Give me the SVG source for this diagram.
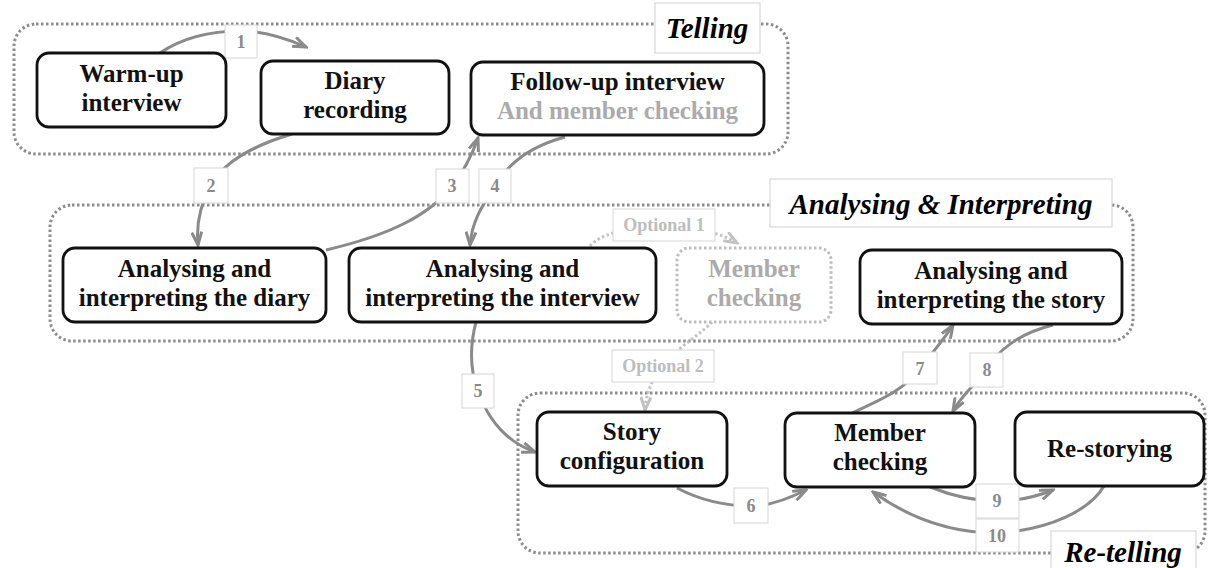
<svg xmlns="http://www.w3.org/2000/svg" width="1208" height="568" viewBox="0 0 1208 568">
<defs>
<style>
text{font-family:'Liberation Serif','Times New Roman',Tinos,Times,serif;}
.grp{fill:none;stroke:#8c8c8c;stroke-width:3;stroke-dasharray:2.5 2.5;}
.glab{fill:#fff;stroke:#cfcfcf;stroke-width:1;}
.gtxt{font-weight:bold;font-style:italic;font-size:29px;fill:#000;text-anchor:middle;}
.node{fill:#fff;stroke:#111;stroke-width:2.8;}
.nodeopt{fill:#fff;stroke:#bdbdbd;stroke-width:3;stroke-dasharray:2.5 2.5;}
.ntxt{font-weight:bold;font-size:25px;fill:#111;text-anchor:middle;}
.ntxtg{font-weight:bold;font-size:25px;fill:#ababab;text-anchor:middle;}
.edge{fill:none;stroke:#8a8a8a;stroke-width:3;marker-end:url(#arr);}
.edgeo{fill:none;stroke:#c2c2c2;stroke-width:3;stroke-dasharray:2.5 2.5;marker-end:url(#arro);}
.lbox{fill:#fff;stroke:#d6d6d6;stroke-width:1;}
.ltxt{font-weight:bold;font-size:18px;fill:#8a8a8a;text-anchor:middle;}
.ltxto{font-weight:bold;font-size:18px;fill:#bdbdbd;text-anchor:middle;}
</style>
<marker id="arr" viewBox="0 0 16 12" refX="14" refY="6" markerWidth="16" markerHeight="12" markerUnits="userSpaceOnUse" orient="auto">
<path d="M1,1 L14,6 L1,11" fill="none" stroke="#8a8a8a" stroke-width="3" stroke-linejoin="miter"/>
</marker>
<marker id="arro" viewBox="0 0 16 12" refX="14" refY="6" markerWidth="16" markerHeight="12" markerUnits="userSpaceOnUse" orient="auto">
<path d="M1,1 L14,6 L1,11" fill="none" stroke="#c2c2c2" stroke-width="3" stroke-linejoin="miter"/>
</marker>
</defs>
<rect width="1208" height="568" fill="#fff"/>

<g id="group-telling">
<rect class="grp" x="14" y="24" width="774" height="130" rx="22"/>
<rect class="glab" x="655" y="3" width="105" height="50"/>
<text class="gtxt" x="707" y="38">Telling</text>
</g>
<g id="group-analysing">
<rect class="grp" x="50" y="205" width="1083" height="136" rx="22"/>
<rect class="glab" x="770" y="179" width="342" height="48"/>
<text class="gtxt" x="941" y="214">Analysing &amp; Interpreting</text>
</g>
<g id="group-retelling">
<rect class="grp" x="518" y="393" width="687" height="160" rx="22"/>
<rect class="glab" x="1051" y="531" width="145" height="45"/>
<text class="gtxt" x="1123" y="562">Re-telling</text>
</g>

<g id="connectors">
<path class="edge" d="M160,53 C185,36 215,31 241,31 C265,31 290,40 306,47"/>
<path class="edge" d="M292,134 C255,145 225,160 211,185 C200,205 196,225 198,245"/>
<path class="edge" d="M326,250 C390,235 430,215 452,186 C465,170 472,155 478,138"/>
<path class="edge" d="M565,137 C535,145 510,160 495,186 C483,205 472,220 470,245"/>
<path class="edge" d="M476,322 C470,345 470,370 478,391 C490,425 510,443 535,452"/>
<path class="edge" d="M677,488 C700,500 725,506 751,506 C770,506 790,498 806,490"/>
<path class="edge" d="M852,413 C880,400 905,390 920,368 C935,350 945,338 953,325"/>
<path class="edge" d="M1053,325 C1020,333 998,350 987,369 C975,385 962,395 953,411"/>
<path class="edge" d="M930,487 C950,495 975,501 997,501 C1020,501 1038,496 1053,490"/>
<path class="edge" d="M1104,486 C1090,510 1050,530 997,533 C945,533 905,515 873,492"/>
<path class="edgeo" d="M590,246 C600,235 620,228 664,227 C700,227 720,233 737,243"/>
<path class="edgeo" d="M712,322 C700,335 680,345 663,366 C650,382 646,395 645,410"/>

<rect class="lbox" x="225" y="25" width="32" height="33"/><text class="ltxt" x="241" y="48">1</text>
<rect class="lbox" x="194" y="168" width="34" height="35"/><text class="ltxt" x="211" y="192">2</text>
<rect class="lbox" x="436" y="169" width="33" height="34"/><text class="ltxt" x="452" y="192">3</text>
<rect class="lbox" x="479" y="169" width="32" height="34"/><text class="ltxt" x="495" y="192">4</text>
<rect class="lbox" x="462" y="374" width="32" height="34"/><text class="ltxt" x="478" y="397">5</text>
<rect class="lbox" x="734" y="488" width="34" height="35"/><text class="ltxt" x="751" y="512">6</text>
<rect class="lbox" x="903" y="352" width="34" height="32"/><text class="ltxt" x="920" y="375">7</text>
<rect class="lbox" x="970" y="353" width="33" height="34"/><text class="ltxt" x="987" y="376">8</text>
<rect class="lbox" x="976" y="484" width="43" height="34"/><text class="ltxt" x="997" y="507">9</text>
<rect class="lbox" x="976" y="519" width="43" height="33"/><text class="ltxt" x="997" y="542">10</text>
<rect class="lbox" x="613" y="209" width="102" height="32"/><text class="ltxto" x="664" y="231">Optional 1</text>
<rect class="lbox" x="612" y="350" width="102" height="32"/><text class="ltxto" x="663" y="372">Optional 2</text>
</g>

<g id="node-warmup">
<rect class="node" x="37" y="53" width="189" height="74" rx="12"/>
<text class="ntxt" x="131.5" y="82">Warm-up</text>
<text class="ntxt" x="131.5" y="111">interview</text>
</g>
<g id="node-diary">
<rect class="node" x="261" y="61" width="188" height="73" rx="12"/>
<text class="ntxt" x="355" y="89">Diary</text>
<text class="ntxt" x="355" y="118">recording</text>
</g>
<g id="node-followup">
<rect class="node" x="471" y="62" width="293" height="73" rx="12"/>
<text class="ntxt" x="617.5" y="90">Follow-up interview</text>
<text class="ntxtg" x="617.5" y="119">And member checking</text>
</g>
<g id="node-analyse-diary">
<rect class="node" x="63" y="248" width="263" height="74" rx="12"/>
<text class="ntxt" x="194.5" y="277">Analysing and</text>
<text class="ntxt" x="194.5" y="306">interpreting the diary</text>
</g>
<g id="node-analyse-interview">
<rect class="node" x="349" y="248" width="307" height="74" rx="12"/>
<text class="ntxt" x="502.5" y="277">Analysing and</text>
<text class="ntxt" x="502.5" y="306">interpreting the interview</text>
</g>
<g id="node-member-optional">
<rect class="nodeopt" x="677" y="248" width="154" height="74" rx="12"/>
<text class="ntxtg" x="754" y="277">Member</text>
<text class="ntxtg" x="754" y="306">checking</text>
</g>
<g id="node-analyse-story">
<rect class="node" x="860" y="250" width="262" height="74" rx="12"/>
<text class="ntxt" x="991" y="279">Analysing and</text>
<text class="ntxt" x="991" y="308">interpreting the story</text>
</g>
<g id="node-story-config">
<rect class="node" x="537" y="412" width="190" height="74" rx="12"/>
<text class="ntxt" x="632" y="440">Story</text>
<text class="ntxt" x="632" y="469">configuration</text>
</g>
<g id="node-member">
<rect class="node" x="785" y="413" width="190" height="74" rx="12"/>
<text class="ntxt" x="880" y="441">Member</text>
<text class="ntxt" x="880" y="470">checking</text>
</g>
<g id="node-restorying">
<rect class="node" x="1015" y="412" width="189" height="74" rx="12"/>
<text class="ntxt" x="1109.5" y="457">Re-storying</text>
</g>
</svg>
